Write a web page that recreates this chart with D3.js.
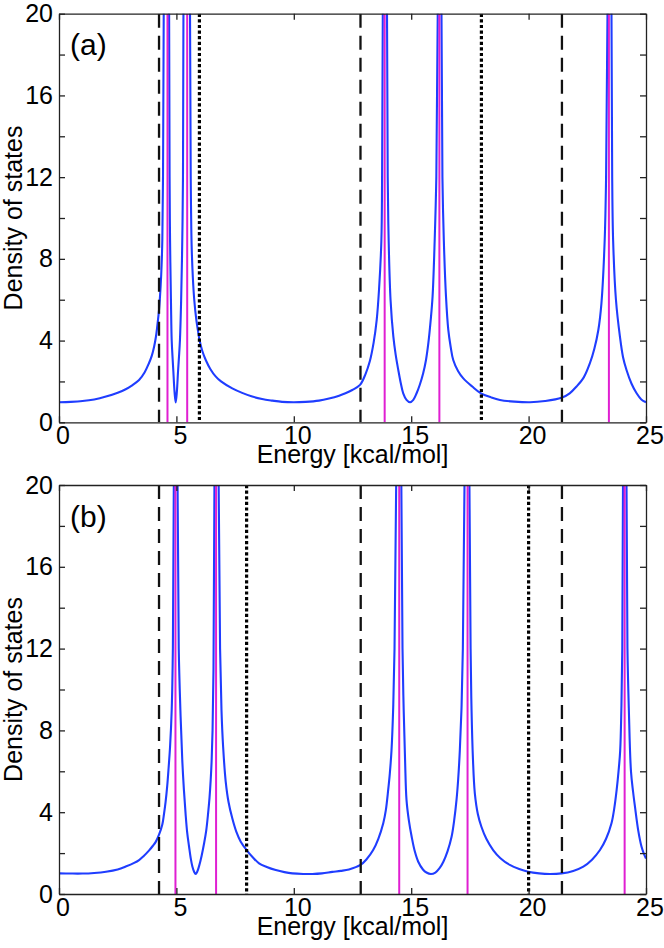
<!DOCTYPE html>
<html>
<head>
<meta charset="utf-8">
<script src="https://d3js.org/d3.v7.min.js"></script>
<style>
  body { margin: 0; background: #fff; }
  text { font-family: "Liberation Sans", Arial, Helvetica, sans-serif; fill: #000; }
</style>
</head>
<body>
<script>
/* ***************************************************************** */
/* DATA ************************************************************ */
// panel (a): energy [kcal/mol] and density of states, 40 = off-scale spike
var energyA = [0, 0.5, 1.0, 1.5, 2.0, 2.5, 2.84, 3.1, 3.41, 3.65, 3.83, 3.95, 4.05, 4.13, 4.19, 4.26, 4.33, 4.37, 4.40, 4.43, 4.46,
               4.62,
               4.69, 4.71, 4.73, 4.77, 4.80, 4.84, 4.87, 4.92, 4.97, 5.02, 5.07, 5.11, 5.15, 5.20, 5.25, 5.28, 5.30,
               5.46,
               5.58, 5.61, 5.65, 5.70, 5.76, 5.85, 5.93, 5.98, 6.1, 6.25, 6.45, 6.67, 6.9, 7.38, 7.8, 8.23, 8.65, 9.09,
               9.5, 10.0, 10.5, 11.07, 11.5, 11.93, 12.2, 12.49, 12.82, 13.05, 13.24, 13.4, 13.53, 13.63, 13.73, 13.76, 13.79,
               13.87,
               13.97, 14.0, 14.04, 14.12, 14.24, 14.34, 14.45, 14.55, 14.66, 14.8, 14.95, 15.09, 15.23, 15.37, 15.51,
               15.63, 15.73, 15.83, 15.91, 16.0, 16.07, 16.13,
               16.2,
               16.29, 16.33, 16.39, 16.48, 16.58, 16.68, 16.79, 17.0, 17.22, 17.6, 17.97, 18.4, 18.78, 19.4, 20.06,
               20.7, 21.4, 21.75, 22.04, 22.35, 22.61, 22.8, 22.97, 23.1, 23.24, 23.3, 23.36,
               23.42,
               23.53, 23.56, 23.6, 23.72, 23.89, 24.02, 24.17, 24.38, 24.6, 24.8, 25.0];
var dosA    = [0.98, 1.0, 1.04, 1.12, 1.26, 1.45, 1.62, 1.8, 2.07, 2.45, 2.89, 3.25, 3.7, 4.2, 4.75, 5.5, 6.7, 7.7, 8.9, 12, 20,
               40,
               20, 12, 8.9, 5.8, 4.0, 3.1, 2.5, 1.5, 0.97, 1.5, 2.5, 3.2, 4.0, 5.9, 8.9, 12, 20,
               40,
               20, 12, 8.6, 7.1, 6.0, 5.0, 4.4, 4.05, 3.5, 3.05, 2.6, 2.25, 2.0, 1.66, 1.44, 1.26, 1.14, 1.06,
               1.0, 0.98, 1.0, 1.06, 1.16, 1.3, 1.42, 1.58, 1.83, 2.35, 3.0, 3.9, 5.0, 6.5, 8.9, 12, 20,
               40,
               20, 12, 8.9, 6.0, 4.19, 3.3, 2.56, 1.95, 1.42, 1.1, 0.98, 1.1, 1.42, 1.85, 2.4,
               3.05, 3.87, 5.0, 6.15, 8.9, 12, 20,
               40,
               20, 12, 8.9, 6.2, 4.52, 3.7, 3.05, 2.5, 2.15, 1.75, 1.42, 1.22, 1.09, 1.01, 0.98,
               1.04, 1.2, 1.42, 1.75, 2.2, 2.89, 3.6, 4.52, 5.8, 8.9, 12, 20,
               40,
               20, 12, 8.9, 6.0, 4.19, 3.2, 2.56, 1.9, 1.42, 1.12, 0.98];
var peaksA  = [4.62, 5.46, 13.87, 16.2, 23.42];   // magenta
var dashedA = [4.26, 12.84, 21.42];
var dottedA = [5.98, 17.99];

// panel (b)
var energyB = [0, 0.5, 1.0, 1.5, 2.0, 2.5, 2.84, 3.2, 3.41, 3.6, 3.83, 4.0, 4.12, 4.26, 4.40, 4.47, 4.54, 4.61, 4.67, 4.73, 4.80, 4.85, 4.89,
               4.96,
               5.05, 5.10, 5.17, 5.25, 5.32, 5.39, 5.46, 5.54, 5.61, 5.68, 5.75, 5.82, 5.89, 5.96, 6.07, 6.18, 6.27,
               6.35, 6.41, 6.46, 6.50, 6.54, 6.58, 6.62,
               6.69,
               6.80, 6.86, 6.92, 6.99, 7.1, 7.22, 7.38, 7.55, 7.74, 7.99, 8.25, 8.52, 8.85, 9.23, 9.6, 9.94, 10.4,
               10.79, 11.2, 11.64, 12.0, 12.35, 12.84, 13.1, 13.38, 13.6, 13.81, 13.92, 14.02, 14.09, 14.16, 14.23,
               14.29, 14.36,
               14.49,
               14.58, 14.63, 14.68, 14.74, 14.8, 14.9, 15.02, 15.15, 15.3, 15.5, 15.65, 15.84, 16.03, 16.2, 16.37,
               16.55, 16.72, 16.83, 16.93, 17.0, 17.07, 17.14, 17.2, 17.27,
               17.40,
               17.48, 17.53, 17.57, 17.63, 17.71, 17.84, 17.99, 18.2, 18.49, 18.8, 19.2, 19.6, 19.98, 20.45, 20.91,
               21.4, 21.9, 22.33, 22.7, 23.04, 23.3, 23.53, 23.65, 23.75, 23.83, 23.9, 23.95, 23.99, 24.02,
               24.09,
               24.17, 24.21, 24.27, 24.36, 24.45, 24.53, 24.67, 24.81, 24.9, 25.0];
var dosB    = [1.01, 1.0, 1.0, 1.03, 1.09, 1.2, 1.34, 1.52, 1.66, 1.85, 2.12, 2.36, 2.55, 2.9, 3.4, 3.9, 4.5, 5.3, 6.2, 7.2, 9.0, 12, 20,
               40,
               20, 12, 9.0, 6.55, 5.09, 3.94, 3.0, 2.31, 1.75, 1.34, 1.1, 0.98, 1.1, 1.34, 1.85, 2.48, 3.1,
               3.94, 4.7, 5.57, 6.5, 8.0, 11, 20,
               40,
               20, 12, 9.0, 7.2, 5.5, 4.5, 3.7, 3.05, 2.56, 2.15, 1.8, 1.5, 1.32, 1.17, 1.07, 1.01, 0.98,
               0.98, 1.01, 1.08, 1.13, 1.2, 1.42, 1.7, 2.15, 2.7, 3.46, 4.1, 5.09, 5.9, 7.0, 9.0,
               12, 20,
               40,
               20, 12, 9.0, 6.5, 4.6, 3.6, 2.8, 2.1, 1.58, 1.2, 1.05, 0.98, 1.05, 1.25, 1.58,
               2.1, 2.8, 3.6, 4.6, 5.6, 7.0, 9.0, 12, 20,
               40,
               20, 12, 9.0, 6.6, 4.92, 3.9, 3.29, 2.7, 2.15, 1.75, 1.42, 1.22, 1.09, 1.01, 0.98,
               1.01, 1.13, 1.34, 1.68, 2.15, 2.7, 3.46, 4.2, 5.09, 6.0, 7.0, 9.0, 12, 20,
               40,
               20, 12, 9.0, 6.0, 5.0, 4.27, 3.1, 2.31, 2.0, 1.73];
var peaksB  = [4.96, 6.69, 14.49, 17.40, 24.09];
var dashedB = [4.26, 12.85, 21.42];
var dottedB = [7.99, 20.0];

var xTicks = [0, 5, 10, 15, 20, 25];
var yTicks = [0, 2, 4, 6, 8, 10, 12, 14, 16, 18, 20];
var yLabelled = [0, 4, 8, 12, 16, 20];

/* ***************************************************************** */
/* SVG INIT ******************************************************** */
var W = 664, H = 948;
var svg = d3.select("body").append("svg")
    .attr("width", W)
    .attr("height", H);

var x = d3.scaleLinear().domain([0, 25]).range([59, 646]);

/* ***************************************************************** */
/* ONE PANEL ******************************************************* */
var drawPanel = function(top, bottom, energy, dos, peaks, dashed, dotted, tag, id) {
    var y = d3.scaleLinear().domain([0, 20]).range([bottom, top]);
    var g = svg.append("g").attr("id", "panel_" + id);

    g.append("clipPath").attr("id", "clip_" + id)
      .append("rect")
        .attr("x", x(0)).attr("y", y(20))
        .attr("width", x(25) - x(0)).attr("height", y(0) - y(20));

    var plot = g.append("g").attr("clip-path", "url(#clip_" + id + ")");

    // density of states
    plot.append("path")
        .datum(d3.zip(energy, dos))
        .attr("fill", "none")
        .attr("stroke", "#1f3dff")
        .attr("stroke-width", 2.1)
        .attr("stroke-linejoin", "round")
        .attr("d", d3.line()
            .x(function(d) { return x(d[0]); })
            .y(function(d) { return y(d[1]); })
            .curve(d3.curveCatmullRom.alpha(0.5)));

    // eigenvalues
    plot.selectAll("line.peak").data(peaks).enter().append("line")
        .attr("class", "peak")
        .attr("x1", function(d) { return x(d); }).attr("x2", function(d) { return x(d); })
        .attr("y1", y(0)).attr("y2", y(20))
        .attr("stroke", "#e01fd2").attr("stroke-width", 2);

    plot.selectAll("line.dash").data(dashed).enter().append("line")
        .attr("class", "dash")
        .attr("x1", function(d) { return x(d); }).attr("x2", function(d) { return x(d); })
        .attr("y1", y(20)).attr("y2", y(0))
        .attr("stroke", "#111").attr("stroke-width", 2.3)
        .attr("stroke-dasharray", "14,8");

    plot.selectAll("line.dot").data(dotted).enter().append("line")
        .attr("class", "dot")
        .attr("x1", function(d) { return x(d); }).attr("x2", function(d) { return x(d); })
        .attr("y1", y(20)).attr("y2", y(0))
        .attr("stroke", "#000").attr("stroke-width", 3.2)
        .attr("stroke-dasharray", "3.2,2.4");

    // axes (ticks pointing inward, full box)
    var bottomAx = g.append("g").attr("transform", "translate(0," + y(0) + ")")
        .call(d3.axisBottom(x).tickValues(xTicks).tickSizeInner(-6).tickSizeOuter(0).tickPadding(4));
    bottomAx.selectAll("text").attr("dx", 3.5);

    g.append("g").attr("transform", "translate(0," + y(20) + ")")
        .call(d3.axisTop(x).tickValues(xTicks).tickSizeInner(-6).tickSizeOuter(0).tickFormat(""));

    g.append("g").attr("transform", "translate(" + x(0) + ",0)")
        .call(d3.axisLeft(y).tickValues(yTicks).tickSizeInner(-6).tickSizeOuter(0).tickPadding(6)
            .tickFormat(function(d) { return yLabelled.indexOf(d) >= 0 ? d : ""; }));

    g.append("g").attr("transform", "translate(" + x(25) + ",0)")
        .call(d3.axisRight(y).tickValues(yTicks).tickSizeInner(-6).tickSizeOuter(0).tickFormat(""));

    g.selectAll(".domain, .tick line").attr("stroke", "#222").attr("stroke-width", 1.3);
    g.selectAll(".tick text").attr("font-size", 25)
        .attr("font-family", "'Liberation Sans', Arial, sans-serif").attr("fill", "#000");

    // labels
    g.append("text")
        .attr("x", (x(0) + x(25)) / 2).attr("y", y(0) + 41)
        .attr("text-anchor", "middle").attr("font-size", 25)
        .text("Energy [kcal/mol]");

    g.append("text")
        .attr("transform", "translate(22," + (y(0) + y(20)) / 2 + ") rotate(-90)")
        .attr("text-anchor", "middle").attr("font-size", 25)
        .text("Density of states");

    g.append("text")
        .attr("x", 70).attr("y", y(20) + 41.5)
        .attr("font-size", 30)
        .text(tag);
};

drawPanel(13.7, 422.3, energyA, dosA, peaksA, dashedA, dottedA, "(a)", "a");
drawPanel(485, 894, energyB, dosB, peaksB, dashedB, dottedB, "(b)", "b");
// END svg design
</script>
</body>
</html>
